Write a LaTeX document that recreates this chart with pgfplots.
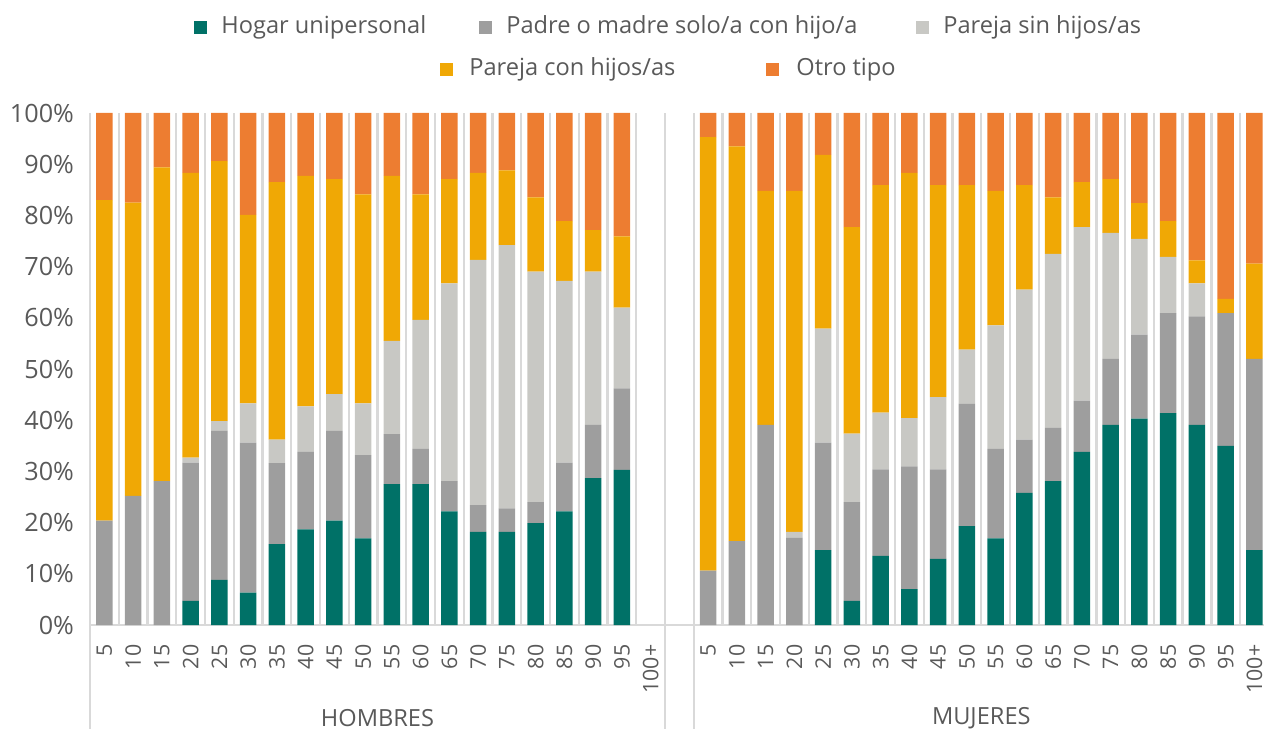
\documentclass[border=0pt]{standalone}
\usepackage{fontspec}
\setmainfont{Open Sans}
\usepackage{pgfplots}
\usepackage{pgfplotstable}
\pgfplotsset{compat=1.18}
\definecolor{cH}{RGB}{0,113,103}
\definecolor{cP}{RGB}{158,158,158}
\definecolor{cPS}{RGB}{200,200,196}
\definecolor{cPC}{RGB}{240,168,5}
\definecolor{cO}{RGB}{237,125,49}
\definecolor{ctext}{RGB}{89,89,89}
\definecolor{cgrid}{RGB}{217,217,217}

\pgfplotstableread{
x H P PS PC O
0 0 20.4 0 62.6 17.0
1 0 25.2 0 57.3 17.5
2 0 28.1 0 61.3 10.6
3 4.7 27.0 1.0 55.6 11.7
4 8.8 29.1 1.9 50.8 9.4
5 6.3 29.3 7.7 36.8 19.9
6 15.8 15.8 4.6 50.3 13.5
7 18.7 15.1 8.9 45.0 12.3
8 20.4 17.5 7.2 42.0 12.9
9 16.9 16.3 10.1 40.8 15.9
10 27.5 9.8 18.2 32.2 12.3
11 27.5 6.9 25.2 24.5 15.9
12 22.2 5.9 38.6 20.4 12.9
13 18.2 5.2 47.9 17.0 11.7
14 18.2 4.6 51.4 14.6 11.2
15 19.9 4.1 45.0 14.5 16.5
16 22.2 9.5 35.5 11.7 21.1
17 28.7 10.4 29.9 8.1 22.9
18 30.3 15.9 15.8 13.9 24.1
21 0 10.6 0 84.7 4.7
22 0 16.4 0 77.1 6.5
23 0 39.1 0 45.7 15.2
24 0 17.0 1.2 66.6 15.2
25 14.6 21.0 22.3 33.9 8.2
26 4.7 19.3 13.4 40.3 22.3
27 13.5 16.9 11.1 44.4 14.1
28 7.0 24.0 9.4 47.9 11.7
29 12.9 17.5 14.1 41.4 14.1
30 19.3 23.9 10.6 32.1 14.1
31 16.9 17.5 24.1 26.3 15.2
32 25.8 10.4 29.3 20.4 14.1
33 28.1 10.4 34.0 11.0 16.5
34 33.8 10.0 33.9 8.8 13.5
35 39.1 12.9 24.6 10.5 12.9
36 40.3 16.4 18.7 7.0 17.6
37 41.4 19.5 11.0 7.0 21.1
38 39.1 21.2 6.4 4.5 28.8
39 35.0 25.9 0 2.8 36.3
40 14.6 37.4 0 18.6 29.4
}\datatable

\begin{document}
\begin{tikzpicture}
\path[use as bounding box] (-45bp,-52bp) rectangle (587bp,312.5bp);
\begin{axis}[
  at={(0,0)}, anchor=south west,
  scale only axis, width=589.4bp, height=256bp,
  xmin=-0.5, xmax=40.5, ymin=0, ymax=100,
  ybar stacked, bar width=8.3bp,
  clip=false,
  axis x line*=bottom,
  axis y line*=left,
  x axis line style={-, draw=cgrid, line width=1.3bp},
  y axis line style={draw=none},
  major tick length=0pt, minor tick length=0pt,
  ytick={0,10,...,100},
  yticklabels={0\%,10\%,20\%,30\%,40\%,50\%,60\%,70\%,80\%,90\%,100\%},
  yticklabel style={font=\fontsize{12.6bp}{14bp}\selectfont, text=ctext, xshift=-4.5bp},
  xtick={0,1,...,19,21,22,...,40},
  xticklabels={5,10,15,20,25,30,35,40,45,50,55,60,65,70,75,80,85,90,95,100+,5,10,15,20,25,30,35,40,45,50,55,60,65,70,75,80,85,90,95,100+},
  xticklabel style={rotate=90, anchor=east, inner sep=1bp, font=\fontsize{10.7bp}{12bp}\selectfont, text=ctext, xshift=-8.6bp},
  minor xtick={-0.5,0.5,...,40.5},
  xminorgrids=true,
  minor x grid style={draw=cgrid, line width=1.2bp},
  every axis plot/.append style={draw=none},
]
\addplot[fill=cH] table[x=x,y=H]{\datatable};
\addplot[fill=cP] table[x=x,y=P]{\datatable};
\addplot[fill=cPS] table[x=x,y=PS]{\datatable};
\addplot[fill=cPC] table[x=x,y=PC]{\datatable};
\addplot[fill=cO] table[x=x,y=O]{\datatable};
\draw[cgrid, line width=1.2bp] (axis cs:-0.5,0) -- ([yshift=-52bp]axis cs:-0.5,0);
\draw[cgrid, line width=1.2bp] (axis cs:19.5,0) -- ([yshift=-52bp]axis cs:19.5,0);
\draw[cgrid, line width=1.2bp] (axis cs:20.5,0) -- ([yshift=-52bp]axis cs:20.5,0);
\node[font=\fontsize{11.8bp}{13bp}\selectfont, text=ctext] at ([yshift=-46.5bp]axis cs:9.5,0) {HOMBRES};
\node[font=\fontsize{11.8bp}{13bp}\selectfont, text=ctext] at ([yshift=-46.5bp]axis cs:30.5,0) {MUJERES};
\end{axis}
% legend
\begin{scope}[every node/.style={font=\fontsize{11.8bp}{13bp}\selectfont, text=ctext, anchor=mid west, inner sep=0pt}]
\fill[cH] (52bp,295.25bp) rectangle ++(6.5bp,6.5bp);
\node at (65.5bp,298.5bp) {Hogar unipersonal};
\fill[cP] (194.5bp,295.25bp) rectangle ++(6.5bp,6.5bp);
\node at (208bp,298.5bp) {Padre o madre solo/a con hijo/a};
\fill[cPS] (413bp,295.25bp) rectangle ++(6.5bp,6.5bp);
\node at (426.5bp,298.5bp) {Pareja sin hijos/as};
\fill[cPC] (175bp,274.25bp) rectangle ++(6.5bp,6.5bp);
\node at (189.5bp,277.5bp) {Pareja con hijos/as};
\fill[cO] (338bp,274.25bp) rectangle ++(6.5bp,6.5bp);
\node at (353bp,277.5bp) {Otro tipo};
\end{scope}
\end{tikzpicture}
\end{document}
